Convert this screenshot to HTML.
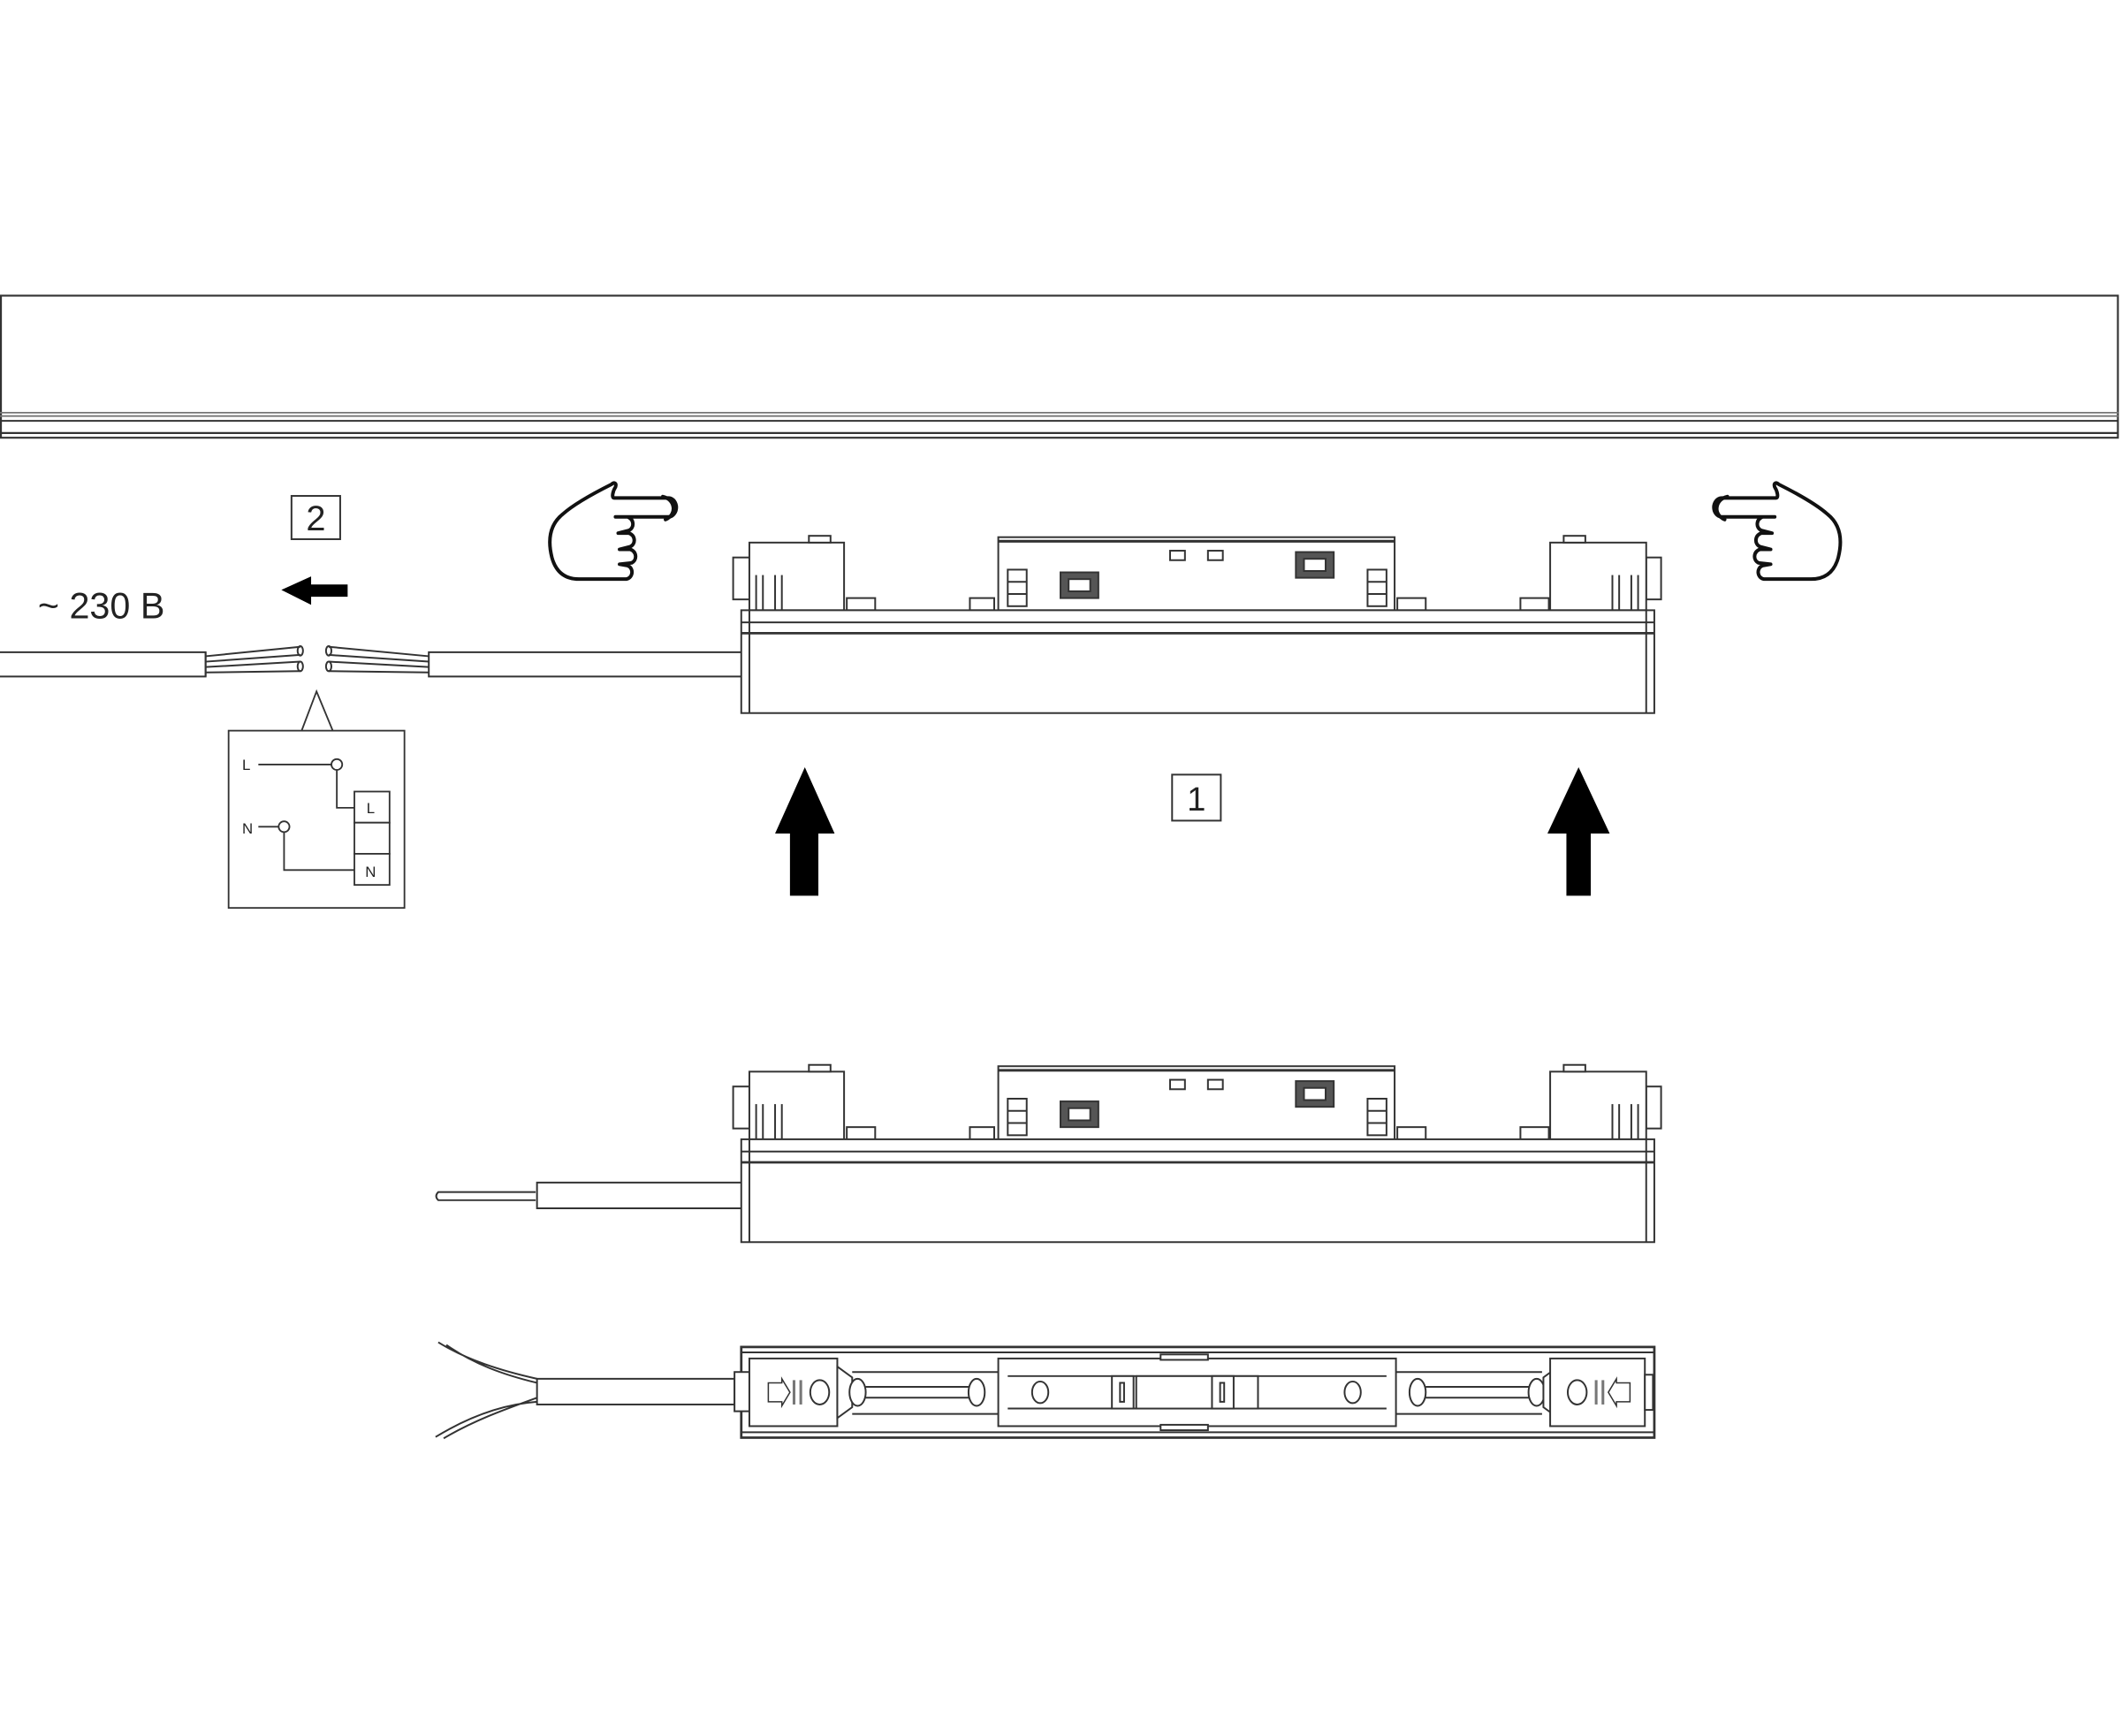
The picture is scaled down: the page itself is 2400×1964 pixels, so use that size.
<!DOCTYPE html>
<html><head><meta charset="utf-8"><style>
html,body{margin:0;padding:0;background:#fff;}
svg{display:block;}
</style></head><body>
<svg width="2400" height="1964" viewBox="0 0 1568 1283" preserveAspectRatio="none" xmlns="http://www.w3.org/2000/svg">
<defs>
<g id="mod" fill="#fff" stroke="#333" stroke-width="1.3">
  <!-- center box -->
  <rect x="738" y="397" width="293" height="54"/>
  <line x1="738" y1="400" x2="1031" y2="400" stroke-width="2"/>
  <rect x="865" y="407" width="11" height="7"/>
  <rect x="893" y="407" width="11" height="7"/>
  <rect x="784" y="423" width="28" height="19" fill="#555"/>
  <rect x="790" y="428" width="16" height="9" fill="#fff"/>
  <rect x="958" y="408" width="28" height="19" fill="#555"/>
  <rect x="964" y="413" width="16" height="9" fill="#fff"/>
  <rect x="745" y="421" width="14" height="27"/>
  <line x1="745" y1="430" x2="759" y2="430"/><line x1="745" y1="439" x2="759" y2="439"/>
  <rect x="1011" y="421" width="14" height="27"/>
  <line x1="1011" y1="430" x2="1025" y2="430"/><line x1="1011" y1="439" x2="1025" y2="439"/>
  <!-- small blocks -->
  <rect x="626" y="442" width="21" height="9"/>
  <rect x="717" y="442" width="18" height="9"/>
  <rect x="1033" y="442" width="21" height="9"/>
  <rect x="1124" y="442" width="21" height="9"/>
  <!-- left clip -->
  <rect x="542" y="412" width="12" height="31"/>
  <rect x="554" y="401" width="70" height="50"/>
  <rect x="598" y="396" width="16" height="5"/>
  <line x1="559" y1="425" x2="559" y2="451"/><line x1="564" y1="425" x2="564" y2="451"/>
  <line x1="573" y1="425" x2="573" y2="451"/><line x1="578" y1="425" x2="578" y2="451"/>
  <!-- right clip -->
  <rect x="1217" y="412" width="11" height="31"/>
  <rect x="1146" y="401" width="71" height="50"/>
  <rect x="1156" y="396" width="16" height="5"/>
  <line x1="1192" y1="425" x2="1192" y2="451"/><line x1="1197" y1="425" x2="1197" y2="451"/>
  <line x1="1206" y1="425" x2="1206" y2="451"/><line x1="1211" y1="425" x2="1211" y2="451"/>
  <!-- body -->
  <rect x="548" y="451" width="675" height="76"/>
  <line x1="548" y1="460" x2="1223" y2="460"/>
  <line x1="548" y1="468" x2="1223" y2="468" stroke-width="1.8"/>
  <line x1="554" y1="451" x2="554" y2="527"/>
  <line x1="1217" y1="451" x2="1217" y2="527"/>
</g>
<g id="hand" fill="none" stroke="#111" stroke-width="2.6" stroke-linejoin="round" stroke-linecap="round">
  <path d="M452 358 C440 364 425 372 416 380 C406 388 405 400 408 412 C411 423 418 428 428 428 L462 428 C468 428 469 420 464 418 L458 417 L467 416 C471 414 471 408 466 406 L458 406 L466 404 C470 402 470 396 465 394 L457 394 L465 392 C469 390 469 384 464 382 L455 382 L494 382 C498 382 500 378 500 375 C500 372 498 368 494 368 L454 368 C452 368 453 363 455 360 C456 357 454 356 452 358 Z"/>
  <path d="M490 367 C499 369 501 380 492 384"/>
</g>
</defs>

<!-- rail -->
<g fill="none" stroke="#333">
  <rect x="0.7" y="218.5" width="1565" height="105" stroke-width="1.4"/>
  <line x1="0" y1="305" x2="1566" y2="305" stroke-width="1.2" stroke="#777"/>
  <line x1="0" y1="307.5" x2="1566" y2="307.5" stroke-width="1.2" stroke="#777"/>
  <line x1="0" y1="311" x2="1566" y2="311" stroke-width="1.3"/>
  <line x1="0" y1="320" x2="1566" y2="320" stroke-width="1.5"/>
</g>

<!-- hands -->
<use href="#hand"/>
<use href="#hand" transform="translate(1767,0) scale(-1,1)"/>

<!-- label 2, arrow, voltage -->
<rect x="215.5" y="366.5" width="36" height="32" fill="#fff" stroke="#333" stroke-width="1.3"/>
<text x="233.5" y="392" font-family="Liberation Sans, sans-serif" font-size="26" text-anchor="middle" fill="#222">2</text>
<path d="M208 436 L230 426 L230 432 L257 432 L257 441 L230 441 L230 447 Z" fill="#000"/>
<text x="28" y="457" font-family="Liberation Sans, sans-serif" font-size="27" fill="#222">~ 230 B</text>

<!-- cables top -->
<g fill="none" stroke="#333" stroke-width="1.3">
  <path d="M0 482 L152 482 L152 500 L0 500"/>
  <line x1="152" y1="482" x2="152" y2="500"/>
  <path d="M152 485 L222 478 M152 489 L222 484 M152 493 L222 489 M152 497 L222 496"/>
  <path d="M243 478 L317 485 M243 484 L317 489 M243 489 L317 493 M243 496 L317 497"/>
  <ellipse cx="222" cy="481" rx="2" ry="3.5"/><ellipse cx="222" cy="492.5" rx="2" ry="3.5"/>
  <ellipse cx="243" cy="481" rx="2" ry="3.5"/><ellipse cx="243" cy="492.5" rx="2" ry="3.5"/>
  <path d="M548 482 L317 482 L317 500 L548 500"/>
</g>

<!-- wiring diagram -->
<g fill="none" stroke="#333" stroke-width="1.2">
  <path d="M223 540 L234 511 L246 540"/>
  <rect x="169" y="540" width="130" height="131" fill="#fff"/>
  <line x1="191" y1="565" x2="245" y2="565"/>
  <circle cx="249" cy="565" r="4" fill="#fff"/>
  <path d="M249 569 L249 597 L262 597"/>
  <rect x="262" y="585" width="26" height="23" fill="#fff"/>
  <rect x="262" y="608" width="26" height="23" fill="#fff"/>
  <rect x="262" y="631" width="26" height="23" fill="#fff"/>
  <line x1="191" y1="611" x2="206" y2="611"/>
  <circle cx="210" cy="611" r="4" fill="#fff"/>
  <path d="M210 615 L210 643 L262 643"/>
</g>
<g font-family="Liberation Sans, sans-serif" font-size="11" fill="#222">
  <text x="179" y="569">L</text>
  <text x="179" y="616">N</text>
  <text x="271" y="601">L</text>
  <text x="270" y="648">N</text>
</g>

<!-- modules -->
<use href="#mod"/>
<use href="#mod" transform="translate(0,391)"/>

<!-- arrows up -->
<path d="M595 567 L617 616 L605 616 L605 662 L584 662 L584 616 L573 616 Z" fill="#000"/>
<path d="M1167 567 L1190 616 L1176 616 L1176 662 L1158 662 L1158 616 L1144 616 Z" fill="#000"/>
<rect x="866.5" y="572.5" width="36" height="34" fill="#fff" stroke="#333" stroke-width="1.3"/>
<text x="884.5" y="599" font-family="Liberation Sans, sans-serif" font-size="25" text-anchor="middle" fill="#222">1</text>

<!-- middle cable -->
<g fill="none" stroke="#333" stroke-width="1.3">
  <path d="M396 881 L324 881 Q321 884 324 887 L396 887"/>
  <path d="M548 874 L397 874 L397 893 L548 893"/>
</g>

<!-- bottom module (top view) -->
<g fill="#fff" stroke="#333" stroke-width="1.3">
  <path d="M324 992 C345 1005 370 1013 397 1019 M330 994 C350 1008 372 1016 397 1022 M322 1062 C345 1048 370 1038 397 1036 M328 1063 C350 1050 372 1042 397 1033" fill="none"/>
  <rect x="397" y="1019" width="146" height="19"/>
  <rect x="548" y="995.5" width="675" height="67" stroke-width="1.8"/>
  <line x1="548" y1="999.5" x2="1223" y2="999.5"/>
  <line x1="548" y1="1058.5" x2="1223" y2="1058.5"/>
  <rect x="543" y="1014" width="11" height="29"/>
  <rect x="554" y="1004" width="65" height="50"/>
  <ellipse cx="606" cy="1029" rx="7" ry="9"/>
  <path d="M568 1022 L578 1022 L578 1019 L584 1029 L578 1039 L578 1036 L568 1036 Z" stroke-width="1"/>
  <line x1="587" y1="1020" x2="587" y2="1038" stroke-width="2" stroke="#777"/>
  <line x1="592" y1="1020" x2="592" y2="1038" stroke-width="2" stroke="#777"/>
  <path d="M619 1010 L630 1018 L630 1040 L619 1048 Z"/>
  <ellipse cx="634" cy="1029" rx="6" ry="10"/>
  <line x1="640" y1="1025" x2="718" y2="1025"/>
  <line x1="640" y1="1033" x2="718" y2="1033"/>
  <line x1="630" y1="1014" x2="738" y2="1014"/>
  <line x1="630" y1="1045" x2="738" y2="1045"/>
  <ellipse cx="722" cy="1029" rx="6" ry="10"/>
  <rect x="738" y="1004" width="294" height="50"/>
  <line x1="745" y1="1017" x2="1025" y2="1017"/>
  <line x1="745" y1="1041" x2="1025" y2="1041"/>
  <rect x="840" y="1017" width="90" height="24"/>
  <ellipse cx="769" cy="1029" rx="6" ry="8"/>
  <ellipse cx="1000" cy="1029" rx="6" ry="8"/>
  <rect x="822" y="1017" width="16" height="24"/><rect x="828" y="1022" width="3" height="14"/>
  <rect x="896" y="1017" width="16" height="24"/><rect x="902" y="1022" width="3" height="14"/>
  <rect x="858" y="1001" width="35" height="4"/>
  <rect x="858" y="1053" width="35" height="4"/>
  <ellipse cx="1048" cy="1029" rx="6" ry="10"/>
  <line x1="1054" y1="1025" x2="1132" y2="1025"/>
  <line x1="1054" y1="1033" x2="1132" y2="1033"/>
  <line x1="1032" y1="1014" x2="1140" y2="1014"/>
  <line x1="1032" y1="1045" x2="1140" y2="1045"/>
  <ellipse cx="1136" cy="1029" rx="6" ry="10"/>
  <path d="M1152 1010 L1141 1018 L1141 1040 L1152 1048 Z"/>
  <rect x="1146" y="1004" width="70" height="50"/>
  <ellipse cx="1166" cy="1029" rx="7" ry="9"/>
  <path d="M1205 1022 L1195 1022 L1195 1019 L1189 1029 L1195 1039 L1195 1036 L1205 1036 Z" stroke-width="1"/>
  <line x1="1180" y1="1020" x2="1180" y2="1038" stroke-width="2" stroke="#777"/>
  <line x1="1185" y1="1020" x2="1185" y2="1038" stroke-width="2" stroke="#777"/>
  <rect x="1216" y="1016" width="6" height="26"/>
</g>
</svg>
</body></html>
